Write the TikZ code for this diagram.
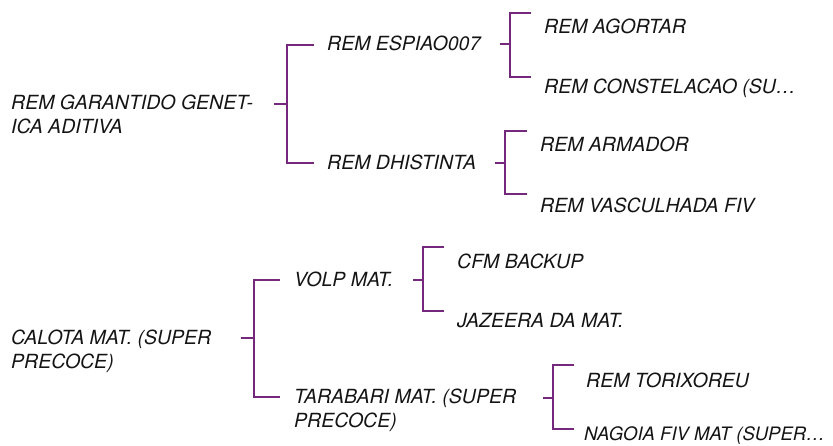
\documentclass[tikz,border=0pt]{standalone}
\usepackage{fontspec}
\setmainfont{TeX Gyre Heros}
\definecolor{brpurple}{RGB}{118,40,124}
\definecolor{txtgray}{RGB}{20,20,20}

\begin{document}
\begin{tikzpicture}[
			x=1pt,y=-1pt,
			lab/.style={anchor=base west,inner sep=0pt,align=left,text=txtgray,
				font=\fontsize{19.5}{24}\selectfont\itshape},
			br/.style={draw=brpurple,line width=2.4pt}]
			\useasboundingbox (0,0) rectangle (833,445);
			% first tree
			\node [lab] (garantido)		at (11,133)		{REM GARANTIDO GENET-\\ICA ADITIVA};
			\node [lab] (espiao)		at (327,50)		{REM ESPIAO007};
			\node [lab] (dhistinta)		at (327,169)	{REM DHISTINTA};
			\node [lab] (agortar)		at (544,33)		{REM AGORTAR};
			\node [lab] (constelacao)	at (544,93)		{REM CONSTELACAO (SU\dots};
			\node [lab] (armador)		at (540,151)	{REM ARMADOR};
			\node [lab] (vasculhada)	at (540,212)	{REM VASCULHADA FIV};
			\coordinate (ga0) at (274,104); \coordinate (ga1) at (287,104);
			\coordinate (ga2) at (314,45);  \coordinate (ga3) at (314,163);
			\draw [br] (ga0) -- (ga1) (ga2) -| (ga1) |- (ga3);
			\coordinate (es0) at (500,44);  \coordinate (es1) at (510,44);
			\coordinate (es2) at (531,13);  \coordinate (es3) at (531,77);
			\draw [br] (es0) -- (es1) (es2) -| (es1) |- (es3);
			\coordinate (dh0) at (495,163); \coordinate (dh1) at (505,163);
			\coordinate (dh2) at (527,131); \coordinate (dh3) at (527,194);
			\draw [br] (dh0) -- (dh1) (dh2) -| (dh1) |- (dh3);
			% second tree
			\node [lab] (calota)		at (11,368)		{CALOTA MAT. (SUPER\\PRECOCE)};
			\node [lab] (volp)			at (294,286)	{VOLP MAT.};
			\node [lab] (tarabari)		at (294,427)	{TARABARI MAT. (SUPER\\PRECOCE)};
			\node [lab] (cfm)			at (457,268)	{CFM BACKUP};
			\node [lab] (jazeera)		at (457,327)	{JAZEERA DA MAT.};
			\node [lab] (torixoreu)		at (586,387)	{REM TORIXOREU};
			\node [lab,font=\fontsize{18.5}{24}\selectfont\itshape] (nagoia)
				at (584,440)	{NAGOIA FIV MAT (SUPER\dots};
			\coordinate (ca0) at (241,338); \coordinate (ca1) at (254,338);
			\coordinate (ca2) at (280,280); \coordinate (ca3) at (280,397);
			\draw [br] (ca0) -- (ca1) (ca2) -| (ca1) |- (ca3);
			\coordinate (vo0) at (413,280); \coordinate (vo1) at (423,280);
			\coordinate (vo2) at (444,247); \coordinate (vo3) at (444,311);
			\draw [br] (vo0) -- (vo1) (vo2) -| (vo1) |- (vo3);
			\coordinate (ta0) at (543,398); \coordinate (ta1) at (553,398);
			\coordinate (ta2) at (574,365); \coordinate (ta3) at (574,429);
			\draw [br] (ta0) -- (ta1) (ta2) -| (ta1) |- (ta3);
		\end{tikzpicture}
\end{document}
